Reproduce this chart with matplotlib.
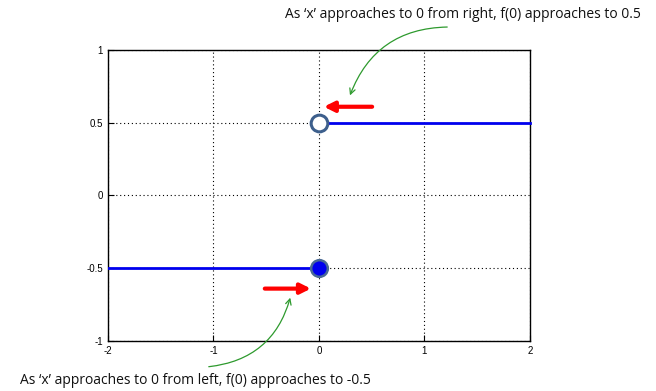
import matplotlib
matplotlib.use("Agg")
import matplotlib.pyplot as plt

# data
left_x = [-2, 0]
left_y = [-0.5, -0.5]
right_x = [0, 2]
right_y = [0.5, 0.5]
xticks = [-2, -1, 0, 1, 2]
yticks = [-1, -0.5, 0, 0.5, 1]
note_right = "As \u2018x\u2019 approaches to 0 from right, f(0) approaches to 0.5"
note_left = "As \u2018x\u2019 approaches to 0 from left, f(0) approaches to -0.5"

plt.rcParams['font.family'] = ['Liberation Sans', 'DejaVu Sans']

fig = plt.figure(figsize=(6.56, 3.91), dpi=100)
ax = fig.add_axes([0.1646, 0.1279, 0.6433, 0.7442])

ax.plot(right_x, right_y, color="#0000ee", lw=2, clip_on=False, zorder=3)
ax.plot(left_x, left_y, color="#0000ee", lw=2, zorder=3)

# open / closed end points
ax.plot([0], [0.5], "o", ms=12, mfc="white", mec="#3d5f8c", mew=2.2, zorder=4, clip_on=False)
ax.plot([0], [-0.5], "o", ms=12, mfc="#0000ee", mec="#4a6a94", mew=1.8, zorder=4, clip_on=False)

ax.set_xlim(-2, 2)
ax.set_ylim(-1, 1)
ax.set_xticks(xticks)
ax.set_yticks(yticks)
ax.set_xticklabels(["-2", "-1", "0", "1", "2"])
ax.set_yticklabels(["-1", "-0.5", "0", "0.5", "1"])
ax.tick_params(direction="in", length=4, labelsize=7, width=0.8)
ax.grid(True, color="black", linestyle=(0, (1, 2.5)), lw=0.8)
for s in ax.spines.values():
    s.set_linewidth(1)

# red arrows
ax.annotate("", xy=(0.02, 0.61), xytext=(0.53, 0.61),
            arrowprops=dict(arrowstyle="-|>,head_length=0.6,head_width=0.3", color="red", lw=3),
            annotation_clip=False)
ax.annotate("", xy=(-0.05, -0.64), xytext=(-0.54, -0.64),
            arrowprops=dict(arrowstyle="-|>,head_length=0.6,head_width=0.3", color="red", lw=3),
            annotation_clip=False)

# green curved arrows
ax.annotate("", xy=(349 / 656, 1 - 98 / 391), xytext=(450 / 656, 1 - 27 / 391),
            xycoords="figure fraction", textcoords="figure fraction",
            arrowprops=dict(arrowstyle="->", color="#2e9a2e", lw=0.9,
                            connectionstyle="arc3,rad=0.35"),
            annotation_clip=False)
ax.annotate("", xy=(291 / 656, 1 - 295 / 391), xytext=(206 / 656, 1 - 367 / 391),
            xycoords="figure fraction", textcoords="figure fraction",
            arrowprops=dict(arrowstyle="->", color="#2e9a2e", lw=0.9,
                            connectionstyle="arc3,rad=0.35"),
            annotation_clip=False)

fig.text(285 / 656, 1 - 15 / 391, note_right, fontsize=10, family="Open Sans",
         va="center", ha="left", color="#111111")
fig.text(20 / 656, 1 - 380 / 391, note_left, fontsize=10, family="Open Sans",
         va="center", ha="left", color="#111111")

fig.savefig("out.png", dpi=100)
